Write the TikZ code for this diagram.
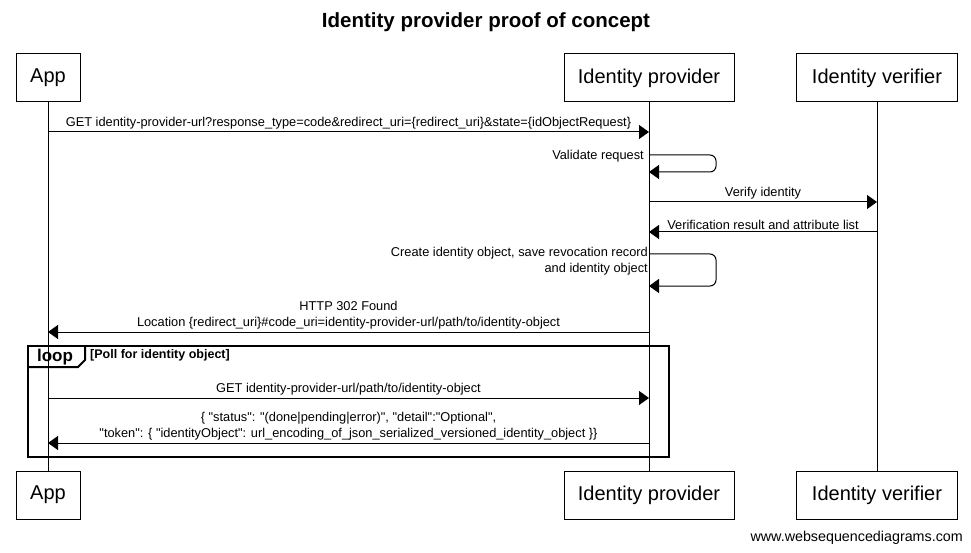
\documentclass[tikz,border=0pt]{standalone}
\usepackage{fontspec}
\setmainfont{Liberation Sans}[Ligatures=TeXOff]
\usetikzlibrary{arrows.meta, positioning, calc}
\tikzset{
  actor/.style={draw, fill=white, line width=1pt, minimum height=48pt, inner sep=0pt, font=\fontsize{20}{24}\selectfont},
  life/.style={line width=1pt},
  msg/.style={-{Triangle[length=10pt, width=14pt]}, line width=1pt},
  lbl/.style={font=\fontsize{12.8}{16}\selectfont, align=center, inner sep=0pt},
  frame/.style={line width=2pt},
}

\begin{document}
\begin{tikzpicture}[x=1pt, y=-1pt]
    \useasboundingbox (0,0) rectangle (971,553);
    \node[font=\bfseries\fontsize{20.5}{24}\selectfont] (title) at (486,22) {Identity provider proof of concept};
    % actors, top and bottom
    \node[actor, minimum width=64pt] (appT) at (48,78) {\raisebox{-2pt}{App}};
    \node[actor, minimum width=170pt] (idpT) at (649,78) {\raisebox{-2pt}{Identity provider}};
    \node[actor, minimum width=161pt] (ivT) at (877,78) {\raisebox{-2pt}{Identity verifier}};
    \node[actor, minimum width=64pt] (appB) at (48,495) {\raisebox{-2pt}{App}};
    \node[actor, minimum width=170pt] (idpB) at (649,495) {\raisebox{-2pt}{Identity provider}};
    \node[actor, minimum width=161pt] (ivB) at (877,495) {\raisebox{-2pt}{Identity verifier}};
    \draw[life] (appT) -- (appB);
    \draw[life] (idpT) -- (idpB);
    \draw[life] (ivT) -- (ivB);
    % message rows on the lifelines
    \coordinate (getA) at (appT |- 0,132);
    \coordinate (getB) at (idpT |- 0,132);
    \coordinate (valA) at (idpT |- 0,155);
    \coordinate (valB) at (idpT |- 0,172);
    \coordinate (verA) at (idpT |- 0,202);
    \coordinate (verB) at (ivT |- 0,202);
    \coordinate (resA) at (ivT |- 0,232);
    \coordinate (resB) at (idpT |- 0,232);
    \coordinate (creA) at (idpT |- 0,254);
    \coordinate (creB) at (idpT |- 0,286);
    \coordinate (locA) at (idpT |- 0,332);
    \coordinate (locB) at (appT |- 0,332);
    \coordinate (pollA) at (appT |- 0,398);
    \coordinate (pollB) at (idpT |- 0,398);
    \coordinate (ansA) at (idpT |- 0,443);
    \coordinate (ansB) at (appT |- 0,443);
    \draw[msg] (getA) -- node[lbl, above=2pt] {GET identity-provider-url?response\_type=code\&redirect\_uri=\{redirect\_uri\}\&state=\{idObjectRequest\}} (getB);
    \draw[msg, rounded corners=6pt] (valA) -- ++(67,0) -- ++(0,17) -- (valB);
    \node[lbl, anchor=east] (valL) at ($(valA)+(-5,1)$) {Validate request};
    \draw[msg] (verA) -- node[lbl, above=2pt] {Verify identity} (verB);
    \draw[msg] (resA) -- node[lbl, above=2pt] {Verification result and attribute list} (resB);
    \draw[msg, rounded corners=6pt] (creA) -- ++(67,0) -- ++(0,32) -- (creB);
    \node[lbl, anchor=north east, align=right] (creL) at ($(creA)+(-1,-7)$) {Create identity object, save revocation record\\and identity object};
    \draw[msg] (locA) -- node[lbl, above=2pt] {HTTP 302 Found\\Location \{redirect\_uri\}\#code\_uri=identity-provider-url/path/to/identity-object} (locB);
    % loop frame
    \draw[frame] (28,346) rectangle (669,457);
    \draw[frame] (28,367) -- (78,367) -- (85,360) -- (85,346);
    \node[font=\bfseries\fontsize{17}{20}\selectfont, inner sep=0pt] (loopT) at (55,357) {loop};
    \node[lbl, font=\bfseries\fontsize{12.5}{15}\selectfont, anchor=west] (loopL) at (90,355) {[Poll for identity object]};
    \draw[msg] (pollA) -- node[lbl, above=2pt] {GET identity-provider-url/path/to/identity-object} (pollB);
    \draw[msg] (ansA) -- node[lbl, above=2pt] {\{ "status": "(done|pending|error)", "detail":"Optional",\\"token": \{ "identityObject": url\_encoding\_of\_json\_serialized\_versioned\_identity\_object \}\}} (ansB);
    \node[font=\fontsize{14.3}{17}\selectfont, anchor=east, inner sep=0pt] (site) at (963,538) {www.websequencediagrams.com};
\end{tikzpicture}
\end{document}
